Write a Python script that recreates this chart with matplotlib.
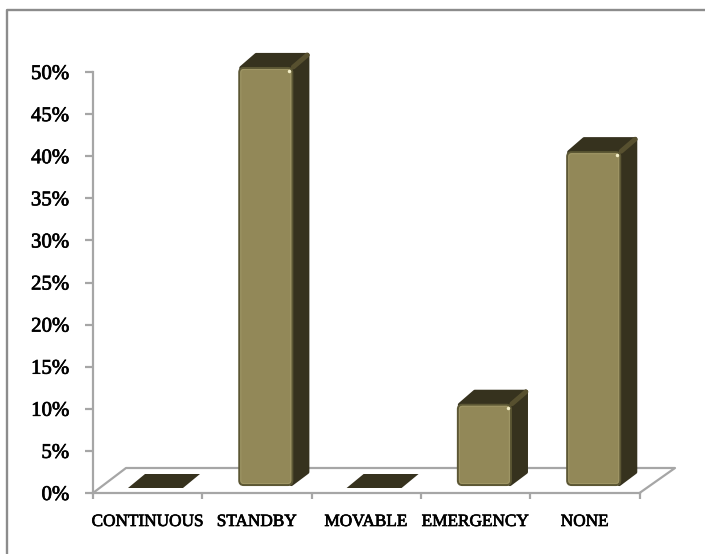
import numpy as np
import matplotlib
matplotlib.use('Agg')
import matplotlib.pyplot as plt
import matplotlib.patheffects as pe
from matplotlib.lines import Line2D
from matplotlib.patches import Polygon, FancyBboxPatch
from matplotlib.ticker import FuncFormatter

categories = ['CONTINUOUS', 'STANDBY', 'MOVABLE', 'EMERGENCY', 'NONE']
values = [0, 50, 0, 10, 40]

W, H = 705, 554
FRONT = '#928858'
DARK = '#36321e'
GREY = '#a6a6a6'

plt.rcParams['font.family'] = ['Liberation Serif', 'DejaVu Serif']

# thin outline thickens the serif labels a little
heavy = [pe.withStroke(linewidth=0.5, foreground='black')]

fig = plt.figure(figsize=(W / 100, H / 100), dpi=100)
# chart frame, only the left and top edges fall inside the image
fig.add_artist(Line2D([7 / W, 7 / W, 1], [0, 1 - 10 / H, 1 - 10 / H], color='#8c8c8c', lw=1.7))

# axes box runs from the 0% line up to the 50% line
ax = fig.add_axes([93 / W, 1 - 493 / H, 546.5 / W, 421 / H])
ax.patch.set_visible(False)
ax.set_xlim(0, 5)
ax.set_ylim(0, 50)

# size of one pixel in data units, the floor and bar depth are set in pixels
px = 5 / 546.5
py = 50 / 421

for s in ['top', 'right']:
    ax.spines[s].set_visible(False)
for s in ['left', 'bottom']:
    ax.spines[s].set_color(GREY)
    ax.spines[s].set_linewidth(1.6)

ax.set_yticks(np.arange(0, 51, 5))
ax.yaxis.set_major_formatter(FuncFormatter(lambda v, p: '%d%%' % v))
ax.set_xticks(np.arange(0, 6))
ax.set_xticklabels([])
ax.tick_params(axis='y', length=6, width=1.6, color=GREY, labelsize=15, pad=11, direction='out')
ax.tick_params(axis='x', length=4.5, width=1.6, color=GREY)
for t in ax.get_yticklabels():
    t.set_path_effects(heavy)

# floor of the 3d chart
ax.plot([0, 33 * px, 582 * px, 546.5 * px], [0, 25 * py, 25 * py, 0], color=GREY, lw=1.6,
        clip_on=False, zorder=1)

for i, (name, v) in enumerate(zip(categories, values)):
    ax.text(i + 0.5, -29 * py, name, ha='center', va='center', fontsize=12.4,
            color='black', clip_on=False, path_effects=heavy)

    x0 = i + 36 * px
    x1 = x0 + 55 * px
    y0 = 7 * py
    y1 = y0 + v - 2 * py
    dx = 16 * px
    dy = 14 * py

    if v == 0:
        ax.add_patch(Polygon([(x0 - 1 * px, y0 - 2 * py), (x1 - 1 * px, y0 - 2 * py),
                              (x1 + dx, y0 + 12 * py), (x0 + dx, y0 + 12 * py)],
                             fc=DARK, ec='none', clip_on=False, zorder=3))
        continue

    # side and top faces, inset a bit so the wide round join gives soft corners
    ax.add_patch(Polygon([(x1 - 2 * px, y0 + 2 * py), (x1 + dx - 2 * px, y0 + dy),
                          (x1 + dx - 2 * px, y1 + dy - 2 * py), (x1 - 2 * px, y1 - 2 * py)],
                         fc=DARK, ec=DARK, lw=3, joinstyle='round', clip_on=False, zorder=3))
    ax.add_patch(Polygon([(x0 + 3 * px, y1 - 1 * py), (x1 - 2 * px, y1 - 1 * py),
                          (x1 + dx - 2 * px, y1 + dy - 2 * py), (x0 + dx + 2 * px, y1 + dy - 2 * py)],
                         fc=DARK, ec=DARK, lw=3, joinstyle='round', clip_on=False, zorder=3))
    # bevel running back from the top corner
    ax.plot([x1, x1 + dx - 2 * px], [y1, y1 + dy - 2 * py], color='#57502f', lw=3.5,
            solid_capstyle='round', clip_on=False, zorder=4)

    # front face with rounded corners, a dark rim and a lighter inner edge
    ax.add_patch(FancyBboxPatch((x0 + 1 * px, y0 + 1 * py), 53 * px, y1 - y0 - 2 * py,
                                boxstyle='round,pad=0,rounding_size=0.04', mutation_aspect=py / px,
                                fc=FRONT, ec='#5c5734', lw=1.5, clip_on=False, zorder=5))
    ax.add_patch(FancyBboxPatch((x0 + 2.5 * px, y0 + 2.5 * py), 50 * px, y1 - y0 - 5 * py,
                                boxstyle='round,pad=0,rounding_size=0.03', mutation_aspect=py / px,
                                fc=FRONT, ec='#9f9665', lw=0.8, clip_on=False, zorder=6))
    ax.plot([x1 - 4 * px], [y1 - 4 * py], 'o', ms=2.5, color='#f4efc8', mec='none', clip_on=False, zorder=7)

fig.savefig('out.png', dpi=100)
